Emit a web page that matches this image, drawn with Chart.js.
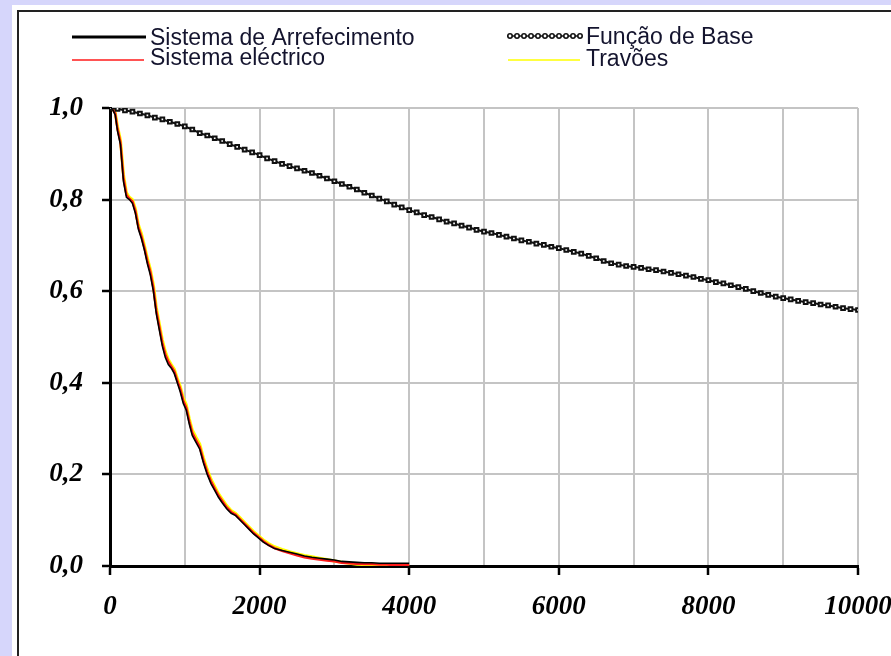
<!DOCTYPE html>
<html>
<head>
<meta charset="utf-8">
<script src="https://cdn.jsdelivr.net/npm/chart.js@4"></script>
<style>
  html, body { margin:0; padding:0; width:891px; height:656px; overflow:hidden; background:#d6d6fb; }
  #panel { position:absolute; left:12px; top:5px; right:0; bottom:0; background:#fff; }
  #frame { position:absolute; left:17px; top:10px; right:0; bottom:0; border-left:2px solid #222; border-top:2px solid #222; }
  #wrap { position:absolute; left:0; top:0; width:891px; height:656px; }
</style>
</head>
<body>
<div id="panel"></div>
<div id="frame"></div>
<div id="wrap"><canvas id="c" width="891" height="656"></canvas></div>
<script>
/* LEGENDA */
const labels = ["Sistema de Arrefecimento", "Sistema eléctrico", "Função de Base", "Travões"];
const colors = ["#000000", "#ff1a1a", "#111111", "#ffff00"];

/* FUNÇÃO DE BASE */
const baseT = [0,100,200,300,400,500,600,700,800,900,1000,1100,1200,1300,1400,1500,1600,1700,1800,1900,
  2000,2100,2200,2300,2400,2500,2600,2700,2800,2900,3000,3100,3200,3300,3400,3500,3600,3700,3800,3900,
  4000,4100,4200,4300,4400,4500,4600,4700,4800,4900,5000,5100,5200,5300,5400,5500,5600,5700,5800,5900,
  6000,6100,6200,6300,6400,6500,6600,6700,6800,6900,7000,7100,7200,7300,7400,7500,7600,7700,7800,7900,
  8000,8100,8200,8300,8400,8500,8600,8700,8800,8900,9000,9100,9200,9300,9400,9500,9600,9700,9800,9900,10000];
const baseR = [1.000,0.998,0.995,0.992,0.988,0.984,0.979,0.975,0.970,0.965,0.960,0.953,0.945,0.940,0.934,0.928,0.921,0.915,0.909,0.903,
  0.897,0.890,0.884,0.878,0.873,0.868,0.863,0.858,0.852,0.846,0.840,0.834,0.828,0.822,0.815,0.809,0.802,0.796,0.789,0.783,
  0.777,0.772,0.766,0.762,0.757,0.752,0.748,0.743,0.739,0.734,0.730,0.727,0.723,0.719,0.715,0.711,0.708,0.704,0.701,0.697,
  0.694,0.690,0.686,0.682,0.677,0.672,0.666,0.661,0.658,0.655,0.653,0.651,0.648,0.646,0.643,0.640,0.637,0.634,0.631,0.627,
  0.624,0.620,0.617,0.613,0.609,0.605,0.600,0.596,0.592,0.588,0.585,0.582,0.579,0.576,0.574,0.571,0.569,0.566,0.563,0.561,0.559];

/* SISTEMAS */
const sysT = [0,40,70,100,140,180,220,260,300,340,380,420,460,500,540,580,620,660,700,740,780,820,860,900,940,980,
  1020,1060,1100,1150,1200,1250,1300,1350,1400,1450,1500,1560,1620,1680,1740,1800,1860,1920,1980,2050,2120,2200,
  2300,2400,2500,2600,2700,2800,2900,3000,3100,3200,3300,3400,3500,3600,3700,3800,4000];
const arref = [1.000,0.995,0.985,0.950,0.920,0.840,0.805,0.800,0.792,0.770,0.735,0.715,0.690,0.660,0.635,0.600,0.550,0.515,0.480,0.455,0.440,0.432,0.420,0.400,0.380,0.355,
  0.340,0.310,0.285,0.270,0.255,0.225,0.200,0.180,0.165,0.150,0.138,0.125,0.115,0.110,0.100,0.090,0.080,0.070,0.062,0.052,0.045,0.038,
  0.034,0.030,0.026,0.022,0.019,0.017,0.015,0.013,0.010,0.009,0.008,0.007,0.007,0.006,0.006,0.006,0.006];
const electr = [1.000,0.996,0.988,0.955,0.925,0.848,0.810,0.802,0.796,0.775,0.740,0.720,0.695,0.666,0.642,0.607,0.557,0.522,0.487,0.462,0.446,0.436,0.425,0.405,0.386,0.361,
  0.346,0.316,0.291,0.275,0.260,0.230,0.205,0.185,0.169,0.154,0.142,0.128,0.118,0.112,0.102,0.092,0.082,0.072,0.064,0.054,0.046,0.039,
  0.033,0.028,0.023,0.019,0.016,0.014,0.012,0.010,0.007,0.006,0.005,0.004,0.004,0.003,0.003,0.002,0.002];
const travoes = [1.000,0.997,0.990,0.960,0.930,0.855,0.815,0.805,0.800,0.780,0.745,0.726,0.700,0.672,0.648,0.614,0.564,0.529,0.494,0.468,0.451,0.440,0.430,0.410,0.392,0.367,
  0.352,0.322,0.297,0.281,0.266,0.236,0.211,0.190,0.174,0.158,0.146,0.132,0.121,0.115,0.105,0.095,0.085,0.075,0.067,0.057,0.049,0.042,
  0.036,0.031,0.027,0.023,0.020,0.017,0.014,0.011,0.008,0.006,0.004,0.003,0.002,0.002,0.001,0.001,0.000];

const pts = (xs, ys) => xs.map((x,i)=>({x, y: ys[i]}));
const tickFont = {family:"'Liberation Serif', 'Times New Roman', serif", size:27, style:"italic", weight:"bold"};

/* legenda desenhada à mão */
const legendPlugin = {
  id: "legendaExcel",
  afterDraw(chart) {
    const ctx = chart.ctx;
    const items = [
      {i:0, x1:72, x2:146, y:37, w:3, tx:150, ty:45},
      {i:1, x1:72, x2:144, y:60, w:1.5, tx:150, ty:65},
      {i:2, x1:507, x2:582, y:36, w:1.5, tx:586, ty:44, dots:true},
      {i:3, x1:508, x2:580, y:60, w:1.5, tx:586, ty:66}
    ];
    ctx.save();
    items.forEach(it => {
      ctx.strokeStyle = colors[it.i];
      ctx.lineWidth = it.w;
      ctx.beginPath(); ctx.moveTo(it.x1, it.y); ctx.lineTo(it.x2, it.y); ctx.stroke();
      if (it.dots) {
        ctx.lineWidth = 1.6;
        for (let x = it.x1 + 3; x < it.x2; x += 7) {
          ctx.beginPath(); ctx.arc(x, it.y, 2.2, 0, Math.PI*2);
          ctx.fillStyle = "#fff"; ctx.fill(); ctx.stroke();
        }
      }
      ctx.fillStyle = "#14142e";
      ctx.font = "23px 'Liberation Sans', Arial, sans-serif";
      ctx.textBaseline = "alphabetic";
      ctx.fillText(labels[it.i], it.tx, it.ty);
    });
    ctx.restore();
  }
};

new Chart(document.getElementById("c"), {
  type: "scatter",
  data: {
    datasets: [
      {label: labels[2], data: pts(baseT, baseR), showLine:true, borderColor: colors[2], borderWidth:2,
        pointStyle:"rect", pointRadius:2.6, pointBorderWidth:2, pointBackgroundColor:"#fff", pointBorderColor:"#111", tension:0},
      {label: labels[0], data: pts(sysT, arref), showLine:true, borderColor: colors[0], borderWidth:1.6, pointRadius:0, tension:0},
      {label: labels[1], data: pts(sysT, electr), showLine:true, borderColor: colors[1], borderWidth:2.4, pointRadius:0, tension:0},
      {label: labels[3], data: pts(sysT, travoes), showLine:true, borderColor: colors[3], borderWidth:3, pointRadius:0, tension:0}
    ]
  },
  options: {
    responsive: false,
    animation: false,
    layout: {padding: {top:108, right:33, left:0, bottom:30}},
    plugins: {legend:{display:false}, tooltip:{enabled:false}},
    scales: {
      x: {
        type: "linear", min: 0, max: 10000,
        afterFit: s => { s.height = 60; s.paddingRight = 0; s.paddingLeft = 0; },
        ticks: {stepSize:1000, autoSkip:false, maxRotation:0, padding:16, color:"#000", font: tickFont,
          callback: v => v % 2000 === 0 ? String(v) : ""},
        grid: {color:"#c4c4c4", lineWidth:2, tickLength:9, tickWidth:2.5,
          tickColor: c => (c.tick && c.tick.value % 2000 === 0) ? "#000" : "rgba(0,0,0,0)"},
        border: {color:"#000", width:3}
      },
      y: {
        min: 0, max: 1,
        afterFit: s => { s.width = 110; s.paddingTop = 0; s.paddingBottom = 0; },
        ticks: {stepSize:0.2, padding:19, color:"#000", font: tickFont,
          callback: v => v.toFixed(1).replace(".", ",")},
        grid: {color:"#c4c4c4", lineWidth:2, tickLength:8, tickWidth:2.5, tickColor:"#000"},
        border: {color:"#000", width:3}
      }
    }
  },
  plugins: [legendPlugin]
});
</script>
</body>
</html>
